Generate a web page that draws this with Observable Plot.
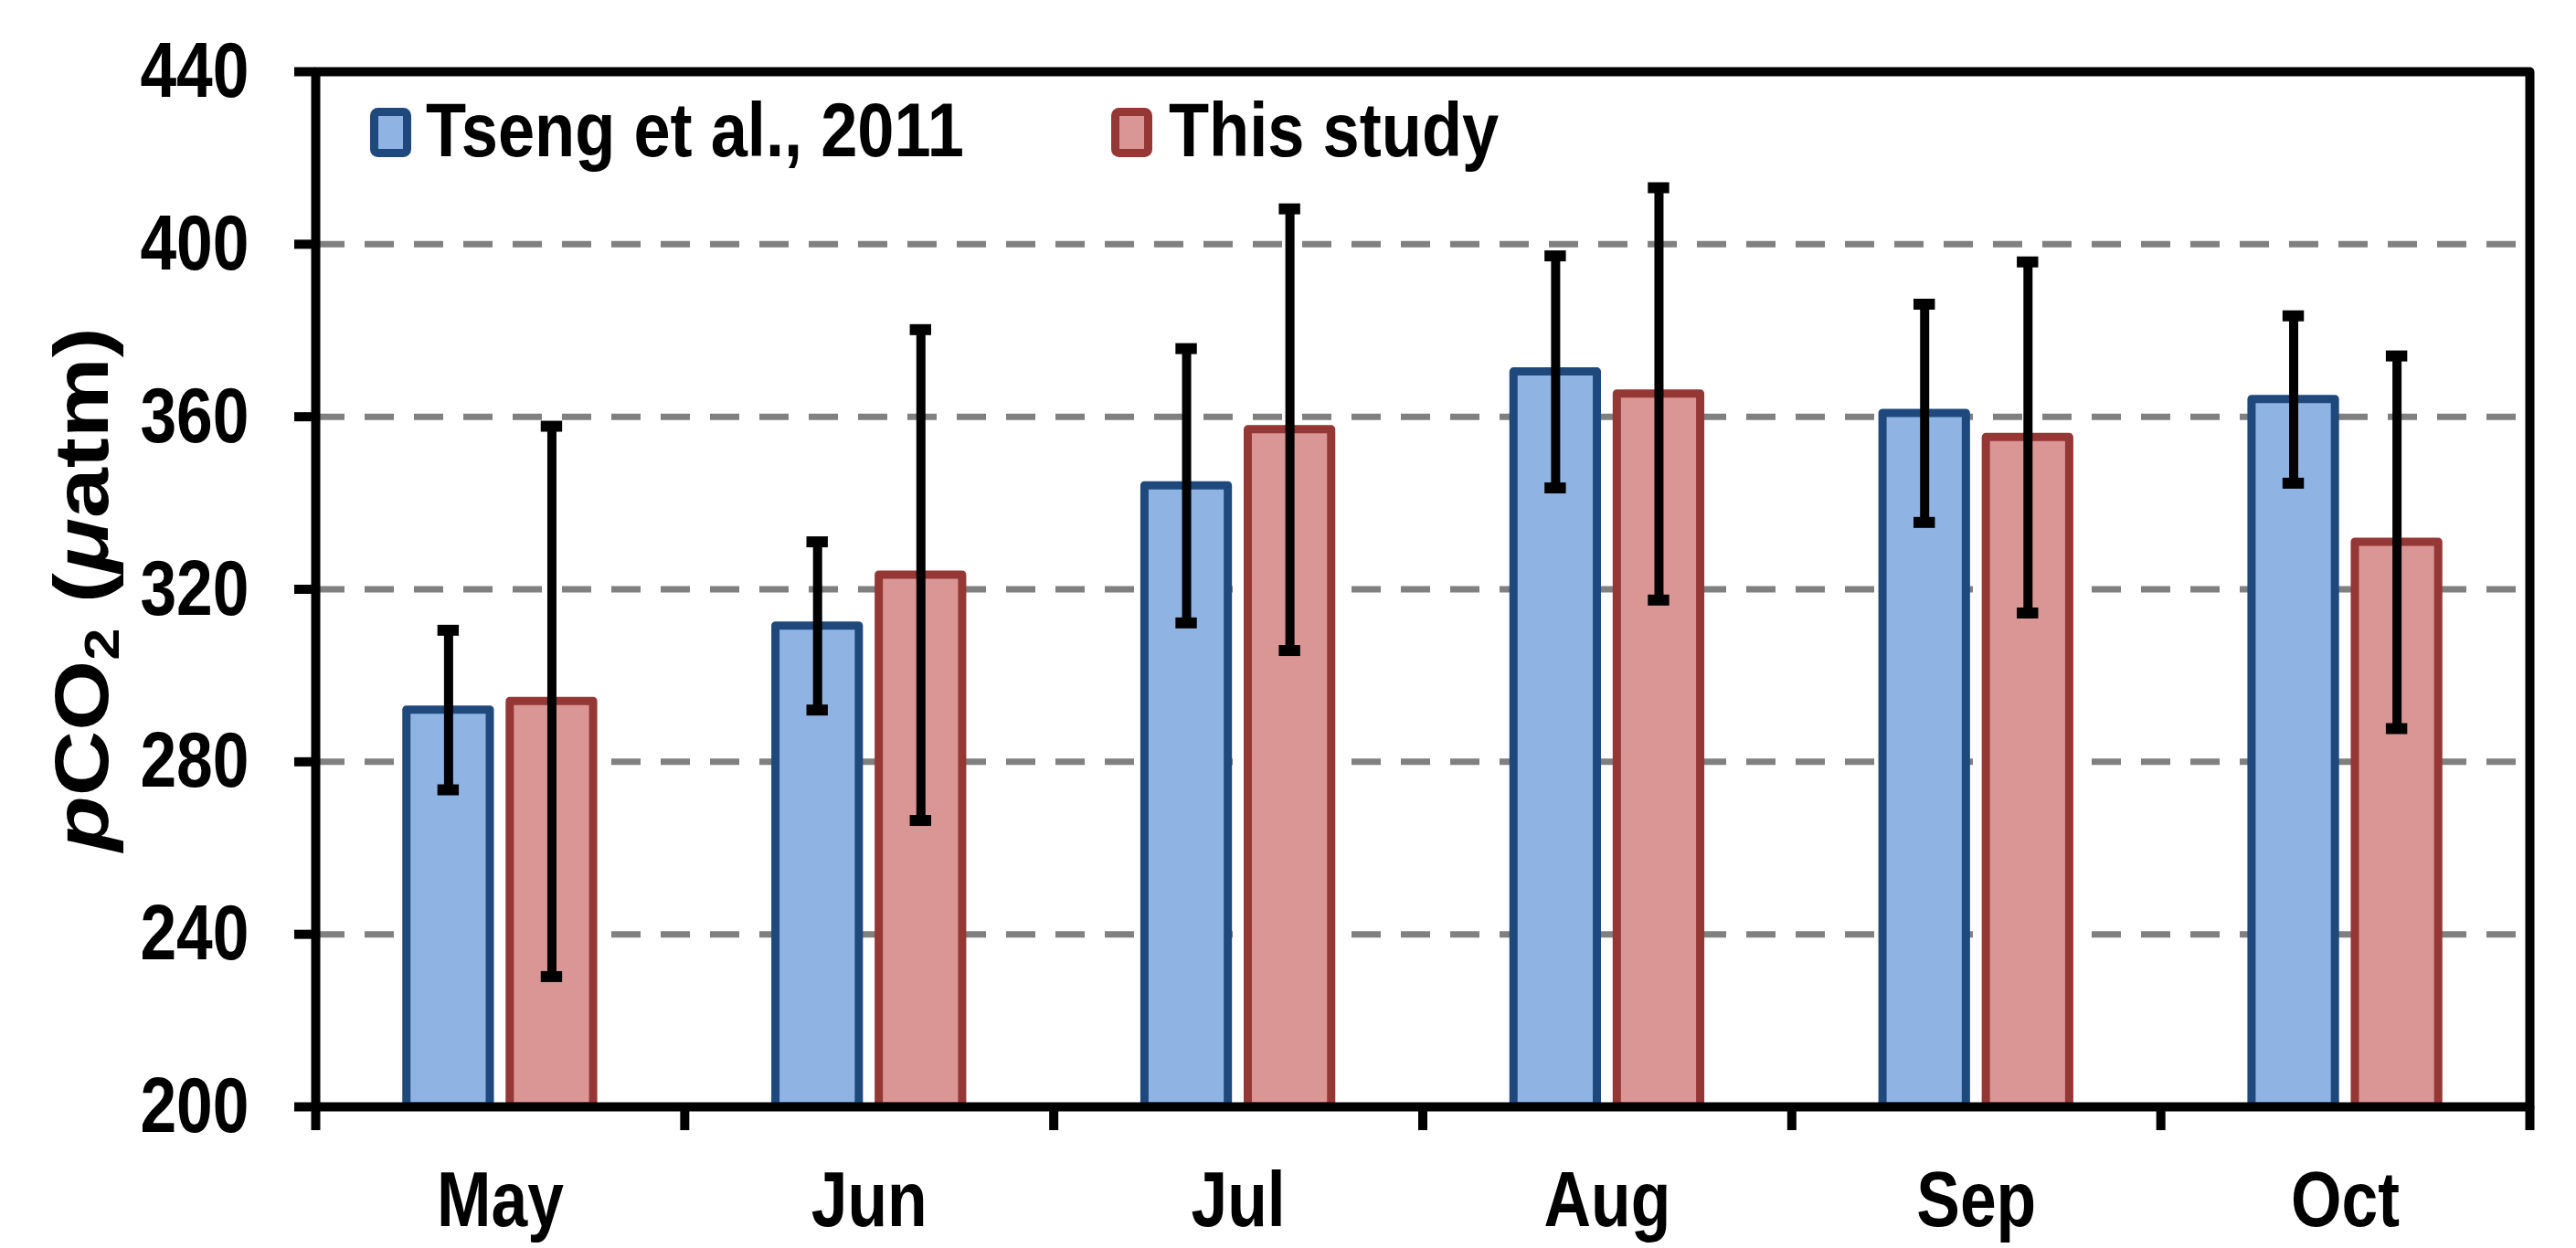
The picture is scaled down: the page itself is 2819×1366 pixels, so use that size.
<!DOCTYPE html>
<html>
<head>
<meta charset="utf-8">
<script src="https://cdn.jsdelivr.net/npm/d3@7"></script>
<script src="https://cdn.jsdelivr.net/npm/@observablehq/plot@0.6"></script>
<style>
  html, body { margin: 0; padding: 0; background: #fff; }
  #chart { width: 2819px; height: 1366px; }
</style>
</head>
<body>
<div id="chart"></div>
<script>
// ---- data ----
const months = ["May", "Jun", "Jul", "Aug", "Sep", "Oct"];
const seriesNames = ["Tseng et al., 2011", "This study"];
const tsengMean = [292, 311.5, 344, 370.4, 360.8, 364];
const tsengSD   = [18.5, 19.5, 31.8, 26.9, 25.3, 19.4];
const studyMean = [294, 323.3, 357, 365.3, 355.2, 330.9];
const studySD   = [63.8, 56.9, 51.2, 47.8, 40.7, 43.2];
const yTicks = [200, 240, 280, 320, 360, 400, 440];

// ---- styling ----
const fills   = ["#8FB4E3", "#D99694"];
const strokes = ["#1F497D", "#953735"];
const offsets = [-0.14, 0.14];   // bar centre offset within a month band
const halfW = 0.113;             // half bar width (band units)
const capHalf = 0.029;           // half error-cap width
const FONT = "'Liberation Sans', Arial, Helvetica, sans-serif";
const SQ = 0.83;                 // horizontal squeeze of the reference's axis text
const SQL = 0.86;                // horizontal squeeze of the legend text

const rows = [];
months.forEach((m, i) => {
  rows.push({month: m, i, s: 0, mean: tsengMean[i], sd: tsengSD[i]});
  rows.push({month: m, i, s: 1, mean: studyMean[i], sd: studySD[i]});
});
const cx = d => d.i + 0.5 + offsets[d.s];
const gridTicks = yTicks.slice(1, -1);
const yMin = yTicks[0], yMax = yTicks[yTicks.length - 1];

const barMark = s => Plot.rect(rows.filter(d => d.s === s), {
  x1: d => cx(d) - halfW, x2: d => cx(d) + halfW,
  y1: () => yMin, y2: "mean",
  fill: fills[s], stroke: strokes[s], strokeWidth: 9, strokeLinejoin: "round"
});

const svg = Plot.plot({
  width: 2819, height: 1366,
  marginLeft: 345, marginRight: 51, marginTop: 78, marginBottom: 155,
  x: {type: "linear", domain: [0, months.length], axis: null, label: null},
  y: {domain: [yMin, yMax], axis: null, label: null},
  style: {fontFamily: FONT, background: "#fff", color: "#000"},
  marks: [
    Plot.ruleY(gridTicks, {stroke: "#808080", strokeWidth: 7, strokeDasharray: "32,22"}),
    barMark(0),
    barMark(1),
    Plot.ruleX(rows, {x: cx, y1: d => d.mean - d.sd, y2: d => d.mean + d.sd, stroke: "#000", strokeWidth: 10}),
    Plot.ruleY(rows, {y: d => d.mean + d.sd, x1: d => cx(d) - capHalf, x2: d => cx(d) + capHalf, stroke: "#000", strokeWidth: 12}),
    Plot.ruleY(rows, {y: d => d.mean - d.sd, x1: d => cx(d) - capHalf, x2: d => cx(d) + capHalf, stroke: "#000", strokeWidth: 12}),
    Plot.frame({stroke: "#000", strokeWidth: 10, strokeLinejoin: "round"}),
    Plot.axisY({ticks: yTicks, tickSize: 23, tickPadding: 50, strokeWidth: 10, label: null,
      fontSize: 86, fontWeight: "bold", fontFamily: FONT, tickFormat: d => String(d)}),
    Plot.axisX({ticks: d3.range(months.length + 1), tickSize: 26, strokeWidth: 10, label: null, tickFormat: () => ""}),
    Plot.axisX({ticks: months.map((_, i) => i + 0.5), tickSize: 0, tickPadding: 69, label: null,
      fontSize: 86, fontWeight: "bold", fontFamily: FONT, tickFormat: d => months[Math.floor(d)]})
  ]
});

// squeeze axis labels horizontally like the reference
svg.querySelectorAll('g[aria-label$="tick label"] text').forEach(t => {
  const tr = t.getAttribute("transform") || "";
  t.setAttribute("transform", tr + ` scale(${SQ},1)`);
});

const root = d3.select(svg);

// legend (inside the plot area, top-left)
const legendItems = [
  {name: seriesNames[0], sx: 409.5, tx: 466},
  {name: seriesNames[1], sx: 1220.5, tx: 1279}
];
const legend = root.append("g").attr("aria-label", "legend");
legendItems.forEach((it, s) => {
  legend.append("rect")
    .attr("x", it.sx).attr("y", 122.5).attr("width", 36).attr("height", 45)
    .attr("rx", 4).attr("fill", fills[s]).attr("stroke", strokes[s]).attr("stroke-width", 9);
  legend.append("text")
    .attr("transform", `translate(${it.tx},171) scale(${SQL},1)`)
    .attr("text-anchor", "start")
    .attr("font-family", FONT).attr("font-weight", "bold").attr("font-size", 84)
    .attr("fill", "#000").text(it.name);
});

// y-axis title with italic p / mu and subscript 2
const title = root.append("text")
  .attr("transform", `translate(118,645) rotate(-90) scale(1,0.85)`)
  .attr("text-anchor", "middle")
  .attr("font-family", FONT).attr("font-weight", "bold").attr("font-size", 99)
  .attr("fill", "#000");
title.append("tspan").attr("font-style", "italic").text("p");
title.append("tspan").text("CO");
title.append("tspan").attr("font-size", "64%").attr("dy", "0.22em").text("2");
title.append("tspan").attr("dy", "-0.14em").text(" (");
title.append("tspan").attr("font-style", "italic").text("μ");
title.append("tspan").text("atm)");

document.getElementById("chart").appendChild(svg);
</script>
</body>
</html>
